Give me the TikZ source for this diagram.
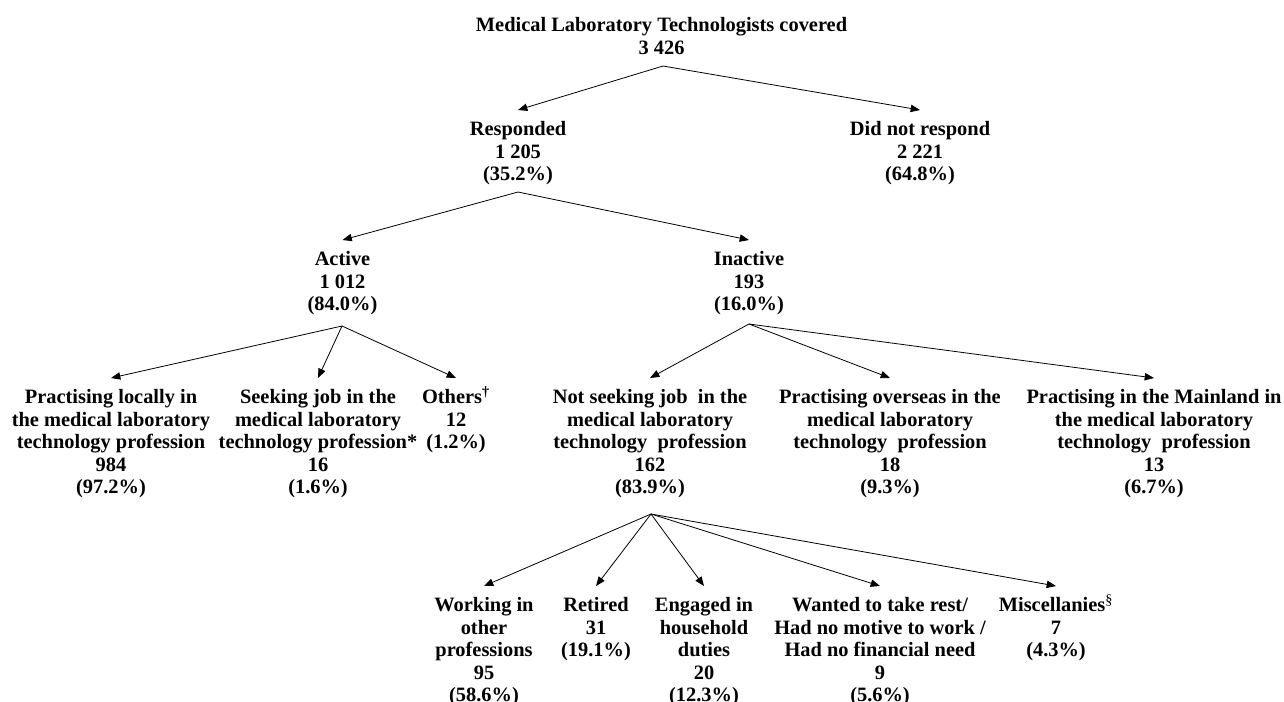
\documentclass[tikz,border=0pt]{standalone}
\usepackage{fontspec}
\setmainfont{Liberation Serif}
\usetikzlibrary{arrows.meta}

\begin{document}
\begin{tikzpicture}[x=0.75pt, y=-0.75pt, line width=0.6pt, >={Triangle[length=7pt,width=5.5pt]},
  every node/.style={font=\fontsize{15.3}{16.9}\selectfont\bfseries, align=center, anchor=north, inner xsep=0pt, inner ysep=8.2pt}]
  \useasboundingbox (0,0) rectangle (1284,701);
  % top
  \node (cov) at (661.5,6) {Medical Laboratory Technologists covered\\3 426};
  \node (resp) at (518,110) {Responded\\1 205\\(35.2\%)};
  \node (nores) at (920,110) {Did not respond\\2 221\\(64.8\%)};
  % responded
  \node (act) at (342.5,240) {Active\\1 012\\(84.0\%)};
  \node (inact) at (749,240) {Inactive\\193\\(16.0\%)};
  % active
  \node (loc) at (111,378) {Practising locally in\\the medical laboratory\\technology profession\\984\\(97.2\%)};
  \node (seek) at (318,378) {Seeking job in the\\medical laboratory\\technology profession*\\16\\(1.6\%)};
  \node (oth) at (456,378) {Others\smash{\textsuperscript{†}}\\12\\(1.2\%)};
  % inactive
  \node (nseek) at (650,378) {Not seeking job\ \ in the\\medical laboratory\\technology\ \ profession\\162\\(83.9\%)};
  \node (abroad) at (890,378) {Practising overseas in the\\medical laboratory\\technology\ \ profession\\18\\(9.3\%)};
  \node (mainl) at (1154,378) {Practising in the Mainland in\\the medical laboratory\\technology\ \ profession\\13\\(6.7\%)};
  % not seeking job
  \node (work) at (484,586) {Working in\\other\\professions\\95\\(58.6\%)};
  \node (ret) at (596,586) {Retired\\31\\(19.1\%)};
  \node (hh) at (704,586) {Engaged in\\household\\duties\\20\\(12.3\%)};
  \node (rest) at (880,586) {Wanted to take rest/\\Had no motive to work /\\Had no financial need\\9\\(5.6\%)};
  \node (misc) at (1056,586) {Miscellanies\smash{\textsuperscript{\mdseries\S}}\\7\\(4.3\%)};

  \coordinate (covB) at (663,66);
  \coordinate (respB) at (518,192);
  \coordinate (actB) at (342,326);
  \coordinate (inactB) at (749,324);
  \coordinate (nseekB) at (651,514);

  \draw[->] (covB) -- (resp.north);
  \draw[->] (covB) -- (nores.north);
  \draw[->] (respB) -- (act.north);
  \draw[->] (respB) -- (inact.north);
  \draw[->] (actB) -- (loc.north);
  \draw[->] (actB) -- (seek.north);
  \draw[->] (actB) -- (oth.north);
  \draw[->] (inactB) -- (nseek.north);
  \draw[->] (inactB) -- (abroad.north);
  \draw[->] (inactB) -- (mainl.north);
  \draw[->] (nseekB) -- (work.north);
  \draw[->] (nseekB) -- (ret.north);
  \draw[->] (nseekB) -- (hh.north);
  \draw[->] (nseekB) -- (rest.north);
  \draw[->] (nseekB) -- (misc.north);
\end{tikzpicture}
\end{document}
